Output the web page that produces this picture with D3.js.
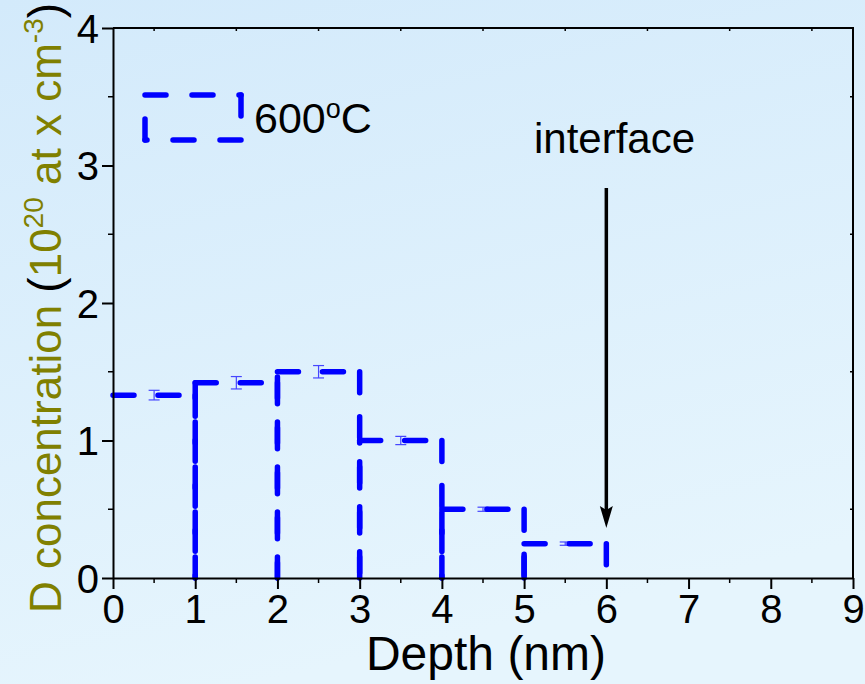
<!DOCTYPE html>
<html>
<head>
<meta charset="utf-8">
<script src="https://cdn.jsdelivr.net/npm/d3@7"></script>
<style>
html,body{margin:0;padding:0;}
body{width:865px;height:684px;overflow:hidden;}
svg{display:block;font-family:"Liberation Sans",Arial,Helvetica,sans-serif;}
</style>
</head>
<body>
<svg id="chart" width="865" height="684"></svg>
<script>
// ---- data ----
const depthEdges = [0, 1, 2, 3, 4, 5, 6];          // nm, bin edges
const concentration = [1.33, 1.42, 1.50, 1.00, 0.50, 0.25]; // 10^20 at cm^-3
const errors = [0.035, 0.045, 0.045, 0.03, 0.015, 0.012];
const xTicks = [0, 1, 2, 3, 4, 5, 6, 7, 8, 9];
const yTicks = [0, 1, 2, 3, 4];
const legendLabel = "600";
const interfaceDepth = 6;
const interfaceLabel = "interface";

// ---- layout ----
const W = 865, H = 684;
const m = {left: 113, right: 853, top: 28, bottom: 578};
const svg = d3.select("#chart");

const defs = svg.append("defs");
const grad = defs.append("linearGradient").attr("id", "bg")
  .attr("x1", "0").attr("y1", "0").attr("x2", "0.3").attr("y2", "1");
grad.append("stop").attr("offset", "0").attr("stop-color", "#d3eafb");
grad.append("stop").attr("offset", "1").attr("stop-color", "#e6f5fd");
svg.append("rect").attr("width", W).attr("height", H).attr("fill", "url(#bg)");

const x = d3.scaleLinear().domain([0, 9]).range([m.left, m.right]);
const y = d3.scaleLinear().domain([0, 4]).range([m.bottom, m.top]);

const BLUE = "#0000ff";
const dash = "21,24";

// ---- error bars (behind line) ----
const eg = svg.append("g").attr("stroke", "#4646ff").attr("stroke-width", 1.2).attr("fill", "none");
concentration.forEach((v, i) => {
  const cx = x((depthEdges[i] + depthEdges[i + 1]) / 2);
  const e = errors[i];
  eg.append("line").attr("x1", cx).attr("x2", cx).attr("y1", y(v - e)).attr("y2", y(v + e));
  [v - e, v + e].forEach(t => eg.append("line")
    .attr("x1", cx - 5.5).attr("x2", cx + 5.5).attr("y1", y(t)).attr("y2", y(t)));
});

// ---- column outlines ----
const segs = [];
concentration.forEach((v, i) => {
  const x0 = depthEdges[i], x1 = depthEdges[i + 1];
  if (x0 !== x.domain()[0]) segs.push([[x0, 0], [x0, v]]);
  segs.push([[x0, v], [x1, v]]);
  segs.push([[x1, v], [x1, 0]]);
});
svg.append("g").selectAll("line").data(segs).join("line")
  .attr("x1", d => x(d[0][0])).attr("y1", d => y(d[0][1]))
  .attr("x2", d => x(d[1][0])).attr("y2", d => y(d[1][1]))
  .attr("stroke", BLUE).attr("stroke-width", 5.5)
  .attr("stroke-linecap", "round").attr("stroke-dasharray", dash);

// ---- axes ----
const ax = svg.append("g").attr("stroke", "#000").attr("fill", "none");
const minorX = d3.range(0.5, 9, 1);
const minorY = d3.range(0.5, 4, 1);
const bottom = svg.append("g").attr("transform", `translate(0,${m.bottom})`)
  .call(d3.axisBottom(x).tickValues(xTicks).tickSize(11).tickSizeOuter(0).tickPadding(5).tickFormat(d3.format("d")));
const left = svg.append("g").attr("transform", `translate(${m.left},0)`)
  .call(d3.axisLeft(y).tickValues(yTicks).tickSize(11).tickSizeOuter(0).tickPadding(3).tickFormat(d3.format("d")));
[bottom, left].forEach(g => {
  g.select(".domain").attr("stroke-width", 2);
  g.selectAll(".tick line").attr("stroke-width", 2);
  g.selectAll("text").attr("font-size", 40).attr("fill", "#000")
    .attr("font-family", '"Liberation Sans",Arial,sans-serif');
});
bottom.selectAll("text").attr("dy", "0.72em");
left.selectAll("text").attr("dy", "0.36em");
minorX.forEach(t => {
  ax.append("line").attr("x1", x(t)).attr("x2", x(t)).attr("y1", m.bottom).attr("y2", m.bottom + 5).attr("stroke-width", 1.5);
  ax.append("line").attr("x1", x(t)).attr("x2", x(t)).attr("y1", m.top).attr("y2", m.top + 3).attr("stroke-width", 1.5);
});
minorY.forEach(t => {
  ax.append("line").attr("y1", y(t)).attr("y2", y(t)).attr("x1", m.left).attr("x2", m.left - 5).attr("stroke-width", 1.5);
  ax.append("line").attr("y1", y(t)).attr("y2", y(t)).attr("x1", m.right).attr("x2", m.right - 3).attr("stroke-width", 1.5);
});
ax.append("line").attr("x1", m.left).attr("x2", m.right + 1).attr("y1", m.top).attr("y2", m.top).attr("stroke-width", 2);
ax.append("line").attr("x1", m.right).attr("x2", m.right).attr("y1", m.top).attr("y2", m.bottom).attr("stroke-width", 2);

// ---- axis titles ----
svg.append("text").attr("x", (m.left + m.right) / 2 + 3).attr("y", 670)
  .attr("text-anchor", "middle").attr("font-size", 48).attr("fill", "#000")
  .text("Depth (nm)");

const OLIVE = "#808000";
const yl = svg.append("text").attr("transform", "translate(61,308) rotate(-90)")
  .attr("text-anchor", "middle").attr("font-size", 44).attr("fill", OLIVE);
yl.append("tspan").text("D concentration  ");
yl.append("tspan").attr("fill", "#000").attr("font-size", 46).attr("font-weight", 300).text("(");
yl.append("tspan").text("10");
yl.append("tspan").attr("font-size", 28).attr("dy", -18).text("20");
yl.append("tspan").attr("dy", 18).text(" at x cm");
yl.append("tspan").attr("font-size", 28).attr("dy", -18).text("-3");
yl.append("tspan").attr("dy", 18).attr("fill", "#000").attr("font-size", 46).text(")");

// ---- legend ----
const L = {x0: 145, x1: 241, y0: 95, y1: 140};
const lsegs = [
  [[L.x0, L.y0], [L.x1, L.y0]],
  [[L.x1, L.y0], [L.x1, L.y1]],
  [[L.x1, L.y1], [L.x0, L.y1]],
  [[L.x0, L.y1], [L.x0, L.y0]]
];
svg.append("g").selectAll("line").data(lsegs).join("line")
  .attr("x1", d => d[0][0]).attr("y1", d => d[0][1])
  .attr("x2", d => d[1][0]).attr("y2", d => d[1][1])
  .attr("stroke", BLUE).attr("stroke-width", 5.5)
  .attr("stroke-linecap", "round").attr("stroke-dasharray", "21,26");
const lt = svg.append("text").attr("x", 254).attr("y", 133).attr("font-size", 43).attr("fill", "#000");
lt.append("tspan").text(legendLabel);
lt.append("tspan").attr("font-size", 27).attr("dy", -15).text("o");
lt.append("tspan").attr("dy", 15).text("C");

// ---- interface arrow ----
const ax6 = x(interfaceDepth);
svg.append("line").attr("x1", ax6).attr("x2", ax6)
  .attr("y1", 188).attr("y2", 511).attr("stroke", "#000").attr("stroke-width", 3.5);
svg.append("path")
  .attr("d", `M${ax6 - 6.5},506 L${ax6},510 L${ax6 + 6.5},506 L${ax6},528 Z`)
  .attr("fill", "#000");
svg.append("text").attr("x", 534).attr("y", 153).attr("font-size", 42).attr("fill", "#000").text(interfaceLabel);
</script>
</body>
</html>
